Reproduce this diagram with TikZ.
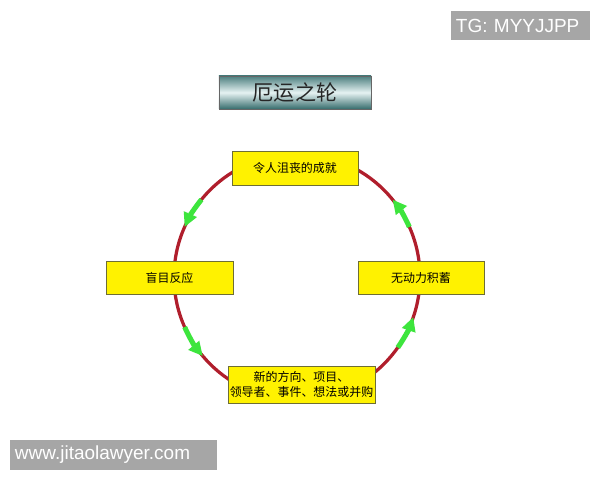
\documentclass[tikz,border=0pt]{standalone}
\usepackage{fontspec}
\setmainfont{Liberation Sans}
\newfontfamily\cjk{Noto Sans CJK SC}
\usetikzlibrary{arrows.meta}
\definecolor{wheelred}{HTML}{B01E2C}
\definecolor{wheelgreen}{HTML}{3DE53D}
\definecolor{boxline}{HTML}{6E6E34}
\definecolor{markgray}{HTML}{A6A6A6}
\begin{document}
\begin{tikzpicture}[x=0.025cm, y=0.025cm,
    stagebox/.style={draw=boxline, line width=0.6pt, fill=yellow, inner sep=0pt, align=center,
        font=\cjk\fontsize{8.5}{11}\selectfont},
    flow/.style={draw=wheelgreen, line width=3.6pt, -{Triangle[length=10pt, width=9.5pt]}},
    tagbox/.style={fill=markgray, text=white, inner ysep=0pt, inner xsep=0.125cm, align=left,
        font=\fontsize{13.5}{16}\selectfont}]
            \useasboundingbox (0,0) rectangle (600,480);
            \fill[white] (0,0) rectangle (600,480);
            \coordinate (hub) at (297,203);
            \draw[wheelred, line width=2.3pt] (hub) circle (123);

            \draw[flow] ([shift={(141:123)}]hub) arc (141:156:123);
            \draw[flow] ([shift={(204:123)}]hub) arc (204:220:123);
            \draw[flow] ([shift={(-35:123)}]hub) arc (-35:-19:123);
            \draw[flow] ([shift={(24:123)}]hub) arc (24:39:123);

            \node[stagebox, minimum width=3.15cm, minimum height=0.85cm] (gain) at (295,312) {令人沮丧的成就};
            \node[stagebox, minimum width=3.175cm, minimum height=0.825cm] (blind) at (169.5,202.5) {盲目反应};
            \node[stagebox, minimum width=3.15cm, minimum height=0.825cm] (stock) at (421,202.5) {无动力积蓄};
            \node[stagebox, minimum width=3.675cm, minimum height=0.925cm] (fresh) at (301.5,95.5) {新的方向、项目、\\领导者、事件、想法或并购};

            \node[draw=gray!80!black, line width=0.5pt, top color=teal!40!gray, bottom color=teal!50!gray!85!black,
                middle color=white!90!teal, minimum width=3.8cm, minimum height=0.825cm, inner sep=0pt,
                font=\cjk\fontsize{15}{18}\selectfont, text=black!85] (title) at (295,387.5) {厄运之轮};

            \node[tagbox, text width=3.225cm, minimum height=0.725cm] (tag) at (520.5,454.5) {TG: MYYJJPP};
            \node[tagbox, text width=4.925cm, minimum height=0.75cm] (site) at (113.5,25) {www.jitaolawyer.com};
    \end{tikzpicture}
\end{document}
